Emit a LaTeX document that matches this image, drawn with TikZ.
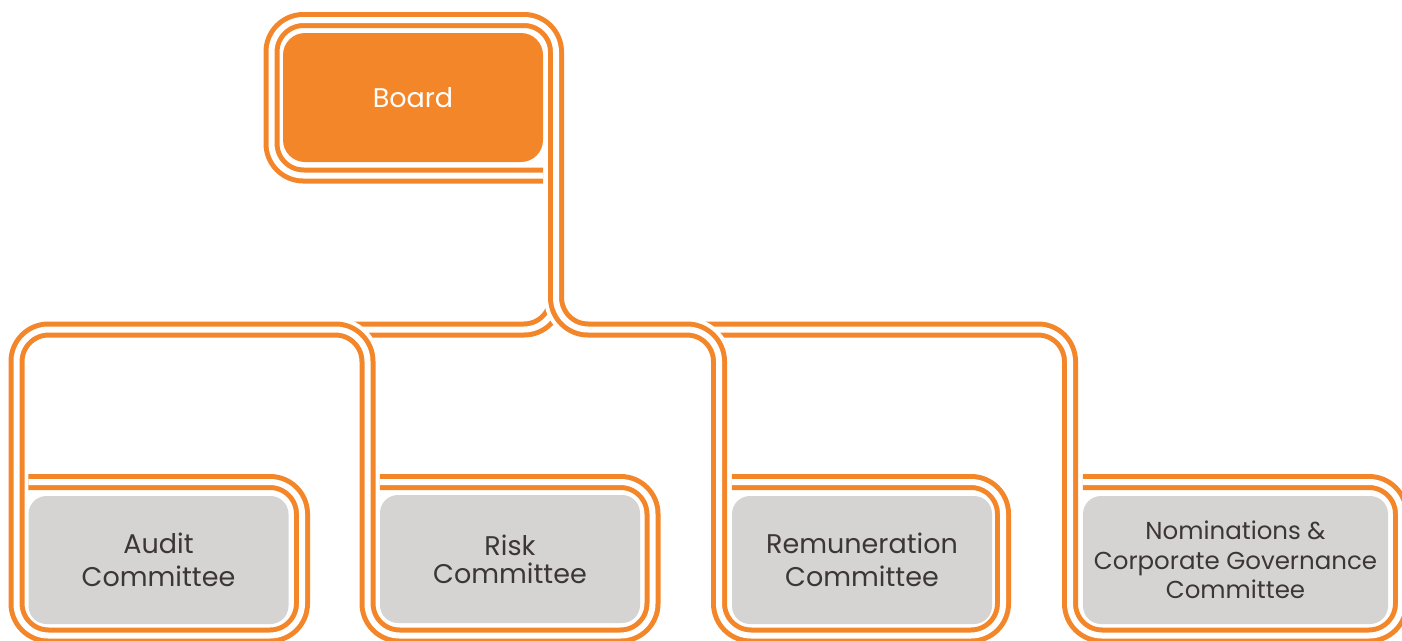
\documentclass[tikz,border=0pt]{standalone}
\usepackage{fontspec}
\setmainfont{Poppins}
\definecolor{brand}{HTML}{F4862A}
\definecolor{panel}{HTML}{D6D4D2}
\definecolor{ink}{HTML}{3D3637}
\pgfdeclarelayer{rails}
\pgfsetlayers{rails,main}
% one orange double-line route with a white casing underneath
\newcommand\railway[1]{\draw[casing] #1; \draw[track] #1;}
\begin{document}
\begin{tikzpicture}[x=1pt,y=-1pt,
  casing/.style={draw=white, line width=24pt, rounded corners=32pt},
  track/.style={draw=brand, line width=5pt, double=white, double distance=6pt, rounded corners=32pt},
  boardbox/.style={fill=brand, rounded corners=22pt, minimum width=260pt, minimum height=129pt,
    text=white, font=\fontsize{27}{32}\selectfont, inner sep=0pt},
  committee/.style={fill=panel, rounded corners=18pt, minimum width=260pt, minimum height=128pt,
    text=ink, align=center, inner sep=0pt, font=\fontsize{27}{33}\selectfont},
]
\useasboundingbox (0,0) rectangle (1402,640);

% boxes
\node[boardbox] (board) at (413,97.5) {Board};
\node[committee] (audit) at (158.5,560) {Audit\\Committee};
\node[committee, font=\fontsize{27}{28}\selectfont] (risk) at (510,559) {Risk\\Committee};
\node[committee] (remun) at (862,560) {Remuneration\\Committee};
\node[committee, minimum width=305pt, font=\fontsize{24.5}{29.5}\selectfont] (nomin) at (1235.5,560)
  {Nominations \&\\Corporate Governance\\Committee};

% route bends and junctions
\coordinate (split) at (556,329.5);
\coordinate (busL) at (335,329.5);
\coordinate (busR) at (687,329.5);

\begin{pgfonlayer}{rails}
% left branch leaving the board line, tucked under the Audit/Risk line
\railway{(556,250) -- (split) -- (busL)}
% Nominations line, tucked under the Remuneration bend
\railway{(busR) -- (1070,329.5) -- (1070,635.5) -- (1401,635.5) -- (1401,482) -- (nomin.north west |- 0,482)}
% Audit and Risk line
\railway{(audit.north west |- 0,482) -- (302,482) -- (302,635.5) -- (16.5,635.5) -- (16.5,329.5)
  -- (367.5,329.5) -- (367.5,635.5) -- (652.5,635.5) -- (652.5,482) -- (risk.north west |- 0,482)}
% Board line running on to Remuneration
\railway{(board.south east |- 0,175.5) -- (271.5,175.5) -- (271.5,20) -- (556,20) -- (split)
  -- (719,329.5) -- (719,635.5) -- (1003,635.5) -- (1003,482) -- (remun.north west |- 0,482)}
\end{pgfonlayer}
\end{tikzpicture}
\end{document}
